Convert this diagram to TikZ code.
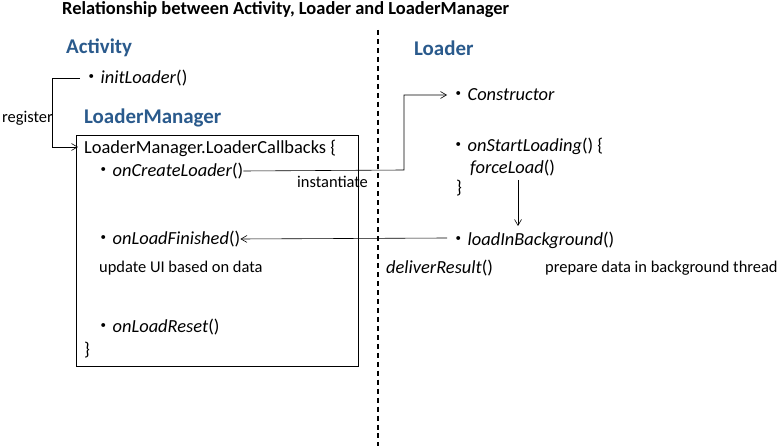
\documentclass[tikz,border=0pt]{standalone}
\usepackage{fontspec}
\setmainfont{Carlito}
\newfontfamily\cjk{Noto Sans CJK JP}
\newcommand{\bt}{{\cjk ・}}
\usetikzlibrary{arrows.meta}
\begin{document}
\begin{tikzpicture}[x=1bp,y=-1bp,
  t/.style={anchor=west,inner sep=0,font=\fontsize{18.5}{20}\selectfont},
  s/.style={anchor=west,inner sep=0,font=\fontsize{16.5}{18}\selectfont},
  h/.style={anchor=west,inner sep=0,font=\fontsize{21}{23}\selectfont\bfseries,text=hd},
  ar/.style={-{Straight Barb[length=6pt,width=7pt]},line width=0.6pt}]
\definecolor{hd}{HTML}{2A5A8C}
\useasboundingbox (0,0) rectangle (779,446);
\node[anchor=west,inner sep=0,font=\fontsize{18.5}{20}\selectfont\bfseries] (title) at (62,10) {Relationship between Activity, Loader and LoaderManager};
\node[h] (act) at (66,48) {Activity};
\node[h] (ldr) at (414,48) {Loader};
\draw[dash pattern=on 5pt off 4pt,line width=1.2pt] (378,30) coordinate (d1) -- (378,446) coordinate (d2);
\node[t] (init) at (82,78) {\bt\textit{initLoader}()};
\node[s] (reg) at (2,118) {register};
\node[h] (lm) at (84,118) {LoaderManager};
\draw[line width=0.6pt] (76,135) rectangle (358,366);
\node[t] (cb) at (84,148) {LoaderManager.LoaderCallbacks \{};
\node[t] (ocl) at (94,171) {\bt\textit{onCreateLoader}()};
\node[s] (inst) at (297,182) {instantiate};
\node[t] (con) at (449,95) {\bt\textit{Constructor}};
\node[t] (osl) at (449,146) {\bt\textit{onStartLoading}() \{};
\node[t] (fl) at (470,168) {\textit{forceLoad}()};
\node[t] (cb2) at (456,188) {\}};
\node[t] (lib) at (449,240) {\bt\textit{loadInBackground}()};
\node[t] (olf) at (94,239) {\bt\textit{onLoadFinished}()};
\node[s] (ui) at (99,268) {update UI based on data};
\node[t] (dr) at (386,268) {\textit{deliverResult}()};
\node[s] (prep) at (545,268) {prepare data in background thread};
\node[t] (olr) at (94,327) {\bt\textit{onLoadReset}()};
\node[t] (cb3) at (84,350) {\}};
\coordinate (a1) at (80,78);
\coordinate (a2) at (78,147);
\draw[ar] (a1) -- (52,78) -- (52,147) -- (a2);
\draw[ar] (ocl.east) -- (404,170) -- (404,95) -- (447,95);
\draw[ar] (518,180) -- (518,226);
\draw[ar] (447,238) -- (olf.east);
\end{tikzpicture}
\end{document}
